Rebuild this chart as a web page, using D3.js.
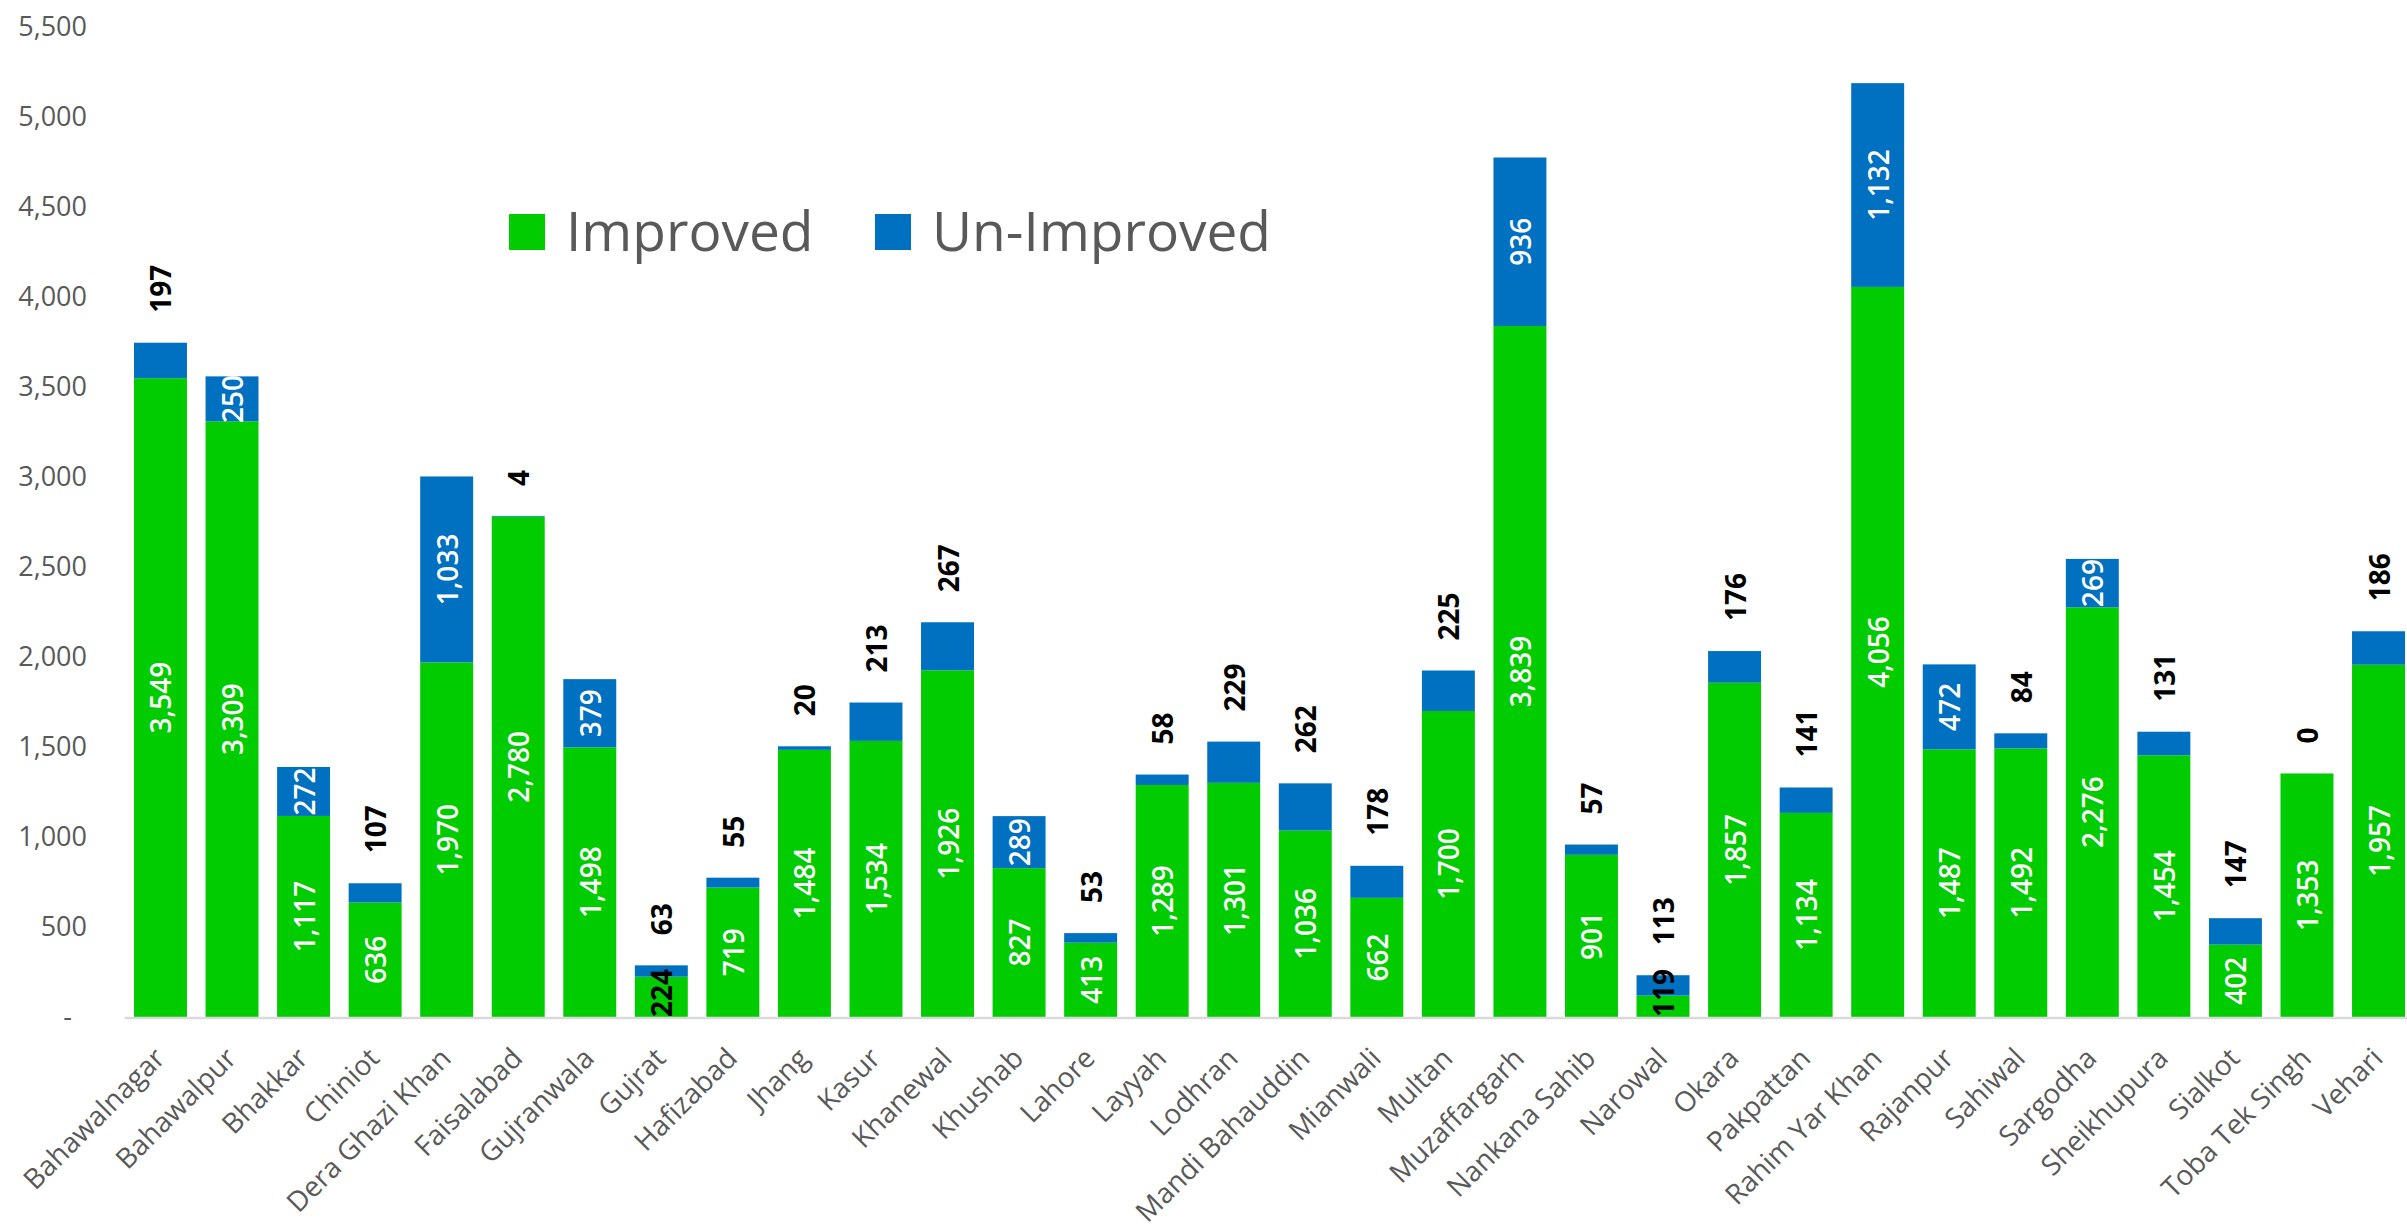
<!DOCTYPE html>
<html>
<head>
<meta charset="utf-8">
<script src="https://cdn.jsdelivr.net/npm/d3@7"></script>
<style>
  html, body { margin: 0; padding: 0; background: #fff; }
  svg { display: block; }
  text { font-family: "Open Sans", "Noto Sans", sans-serif; }
</style>
</head>
<body>
<svg id="chart" width="2407" height="1225"></svg>
<script>
const districts = ["Bahawalnagar","Bahawalpur","Bhakkar","Chiniot","Dera Ghazi Khan","Faisalabad","Gujranwala","Gujrat","Hafizabad","Jhang","Kasur","Khanewal","Khushab","Lahore","Layyah","Lodhran","Mandi Bahauddin","Mianwali","Multan","Muzaffargarh","Nankana Sahib","Narowal","Okara","Pakpattan","Rahim Yar Khan","Rajanpur","Sahiwal","Sargodha","Sheikhupura","Sialkot","Toba Tek Singh","Vehari"];
const improved = [3549,3309,1117,636,1970,2780,1498,224,719,1484,1534,1926,827,413,1289,1301,1036,662,1700,3839,901,119,1857,1134,4056,1487,1492,2276,1454,402,1353,1957];
const unImproved = [197,250,272,107,1033,4,379,63,55,20,213,267,289,53,58,229,262,178,225,936,57,113,176,141,1132,472,84,269,131,147,0,186];
const seriesNames = ["Improved","Un-Improved"];
const yTicks = [0,500,1000,1500,2000,2500,3000,3500,4000,4500,5000,5500];
// districts whose Un-Improved label sits inside the blue segment
const insideUnImproved = new Set(["Bahawalpur","Bhakkar","Dera Ghazi Khan","Gujranwala","Khushab","Muzaffargarh","Rahim Yar Khan","Rajanpur","Sargodha"]);

const colors = {"Improved":"#00CC00","Un-Improved":"#0070C0"};
const svg = d3.select("#chart");
svg.append("rect").attr("width",2407).attr("height",1225).attr("fill","#fff");

const x = d3.scaleBand().domain(districts).range([124.7, 2414.3]).paddingInner(0.26).paddingOuter(0.13);
const y = d3.scaleLinear().domain([0,5500]).range([1017, 27]);

const rows = districts.map((d,i)=>({district:d,"Improved":improved[i],"Un-Improved":unImproved[i]}));
const stacked = d3.stack().keys(seriesNames)(rows);

// bars
const gBars = svg.append("g");
stacked.forEach(layer=>{
  gBars.selectAll(null).data(layer).enter().append("rect")
    .attr("x", d=>x(d.data.district))
    .attr("width", x.bandwidth())
    .attr("y", d=>y(d[1]))
    .attr("height", d=>y(d[0])-y(d[1]))
    .attr("fill", colors[layer.key]);
});

// axis line
svg.append("line").attr("x1",124.7).attr("x2",2407).attr("y1",y(0)+1).attr("y2",y(0)+1)
  .attr("stroke","#D9D9D9").attr("stroke-width",2.5);

// y axis
const yAxis = d3.axisLeft(y).tickValues(yTicks).tickSize(0).tickPadding(0)
  .tickFormat(v => v===0 ? "-" : d3.format(",")(v));
const gy = svg.append("g").attr("transform","translate(87,0)").call(yAxis);
gy.select(".domain").remove();
gy.selectAll("text").attr("font-size",27).attr("fill","#595959")
  .attr("font-family","'Open Sans', sans-serif")
  .attr("dx", v => v===0 ? -15 : 0);

// x axis labels
const xAxis = d3.axisBottom(x).tickSize(0).tickPadding(0);
const gx = svg.append("g").attr("transform",`translate(0,${y(0)})`).call(xAxis);
gx.select(".domain").remove();
gx.selectAll("text")
  .attr("font-size",28).attr("fill","#595959")
  .attr("font-family","'Open Sans', sans-serif")
  .attr("text-anchor","end")
  .attr("dy",null)
  .attr("transform","translate(6,43) rotate(-45)");

// data labels
const fmt = d3.format(",");
const gl = svg.append("g");
rows.forEach((r,i)=>{
  const cx = x(r.district) + x.bandwidth()/2;
  // improved
  const y0 = y(0), y1 = y(r["Improved"]);
  const t = gl.append("text").text(fmt(r["Improved"]))
    .attr("font-size",28).attr("text-anchor","middle").attr("dominant-baseline","central");
  const len = t.node().getComputedTextLength();
  let cy = (y0+y1)/2;
  const fits = len <= (y0-y1);
  if (!fits) { cy = Math.min(cy, y0 - len/2); t.attr("fill","#000").attr("font-weight","bold"); }
  else t.attr("fill","#fff").attr("font-weight",600);
  t.attr("transform",`translate(${cx},${cy}) rotate(-90)`);

  // un-improved
  const top = y(r["Improved"]+r["Un-Improved"]);
  const u = gl.append("text").text(fmt(r["Un-Improved"]))
    .attr("font-size",28).attr("dominant-baseline","central");
  if (insideUnImproved.has(r.district)) {
    u.attr("fill","#fff").attr("font-weight",600).attr("text-anchor","middle")
     .attr("transform",`translate(${cx},${(y1+top)/2}) rotate(-90)`);
  } else {
    u.attr("fill","#000").attr("font-weight","bold").attr("text-anchor","start")
     .attr("transform",`translate(${cx},${top-30}) rotate(-90)`);
  }
});

// legend
const legend = svg.append("g");
const legendItems = [{name:"Improved",x:509},{name:"Un-Improved",x:875}];
legendItems.forEach(it=>{
  legend.append("rect").attr("x",it.x).attr("y",214).attr("width",36).attr("height",36).attr("fill",colors[it.name]);
  legend.append("text").attr("x",it.x+57).attr("y",251).text(it.name)
    .attr("font-size",55).attr("fill","#595959");
});
</script>
</body>
</html>
